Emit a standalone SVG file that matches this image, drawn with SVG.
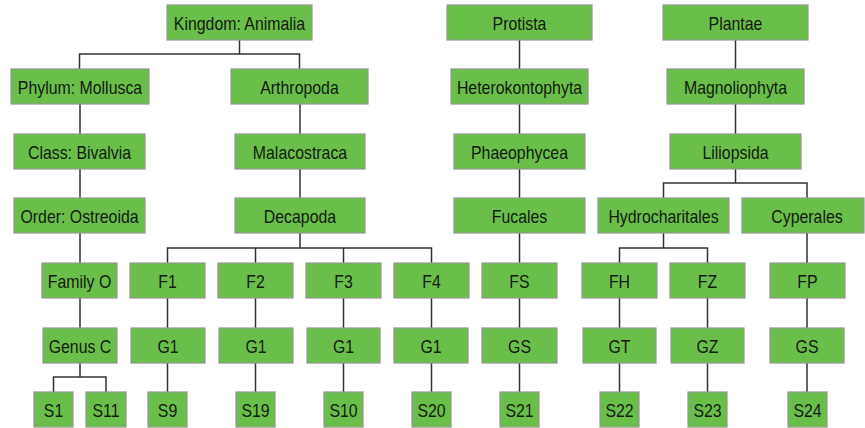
<svg xmlns="http://www.w3.org/2000/svg" width="865" height="428" viewBox="0 0 865 428">
<style>
.n rect{fill:#6abf4b;stroke:#8f9a8c;stroke-width:1.2}
.n text{font-family:"Liberation Sans",Arial,sans-serif;font-size:19px;fill:#141a12;text-anchor:middle}
#connectors path{fill:none;stroke:#333;stroke-width:1.5}
</style>
<rect width="865" height="428" fill="#fff"/>
<g id="connectors">
<path d="M239.5 40V54M79.5 69V54H299.5V69"/>
<path d="M80 104V134M80 169V198M80 233V263M80 298V328M80 363V377M53.5 392V377H106V392"/>
<path d="M300 104V134M300 169V198M300 233V248M167.5 263V248H431.5V263M255.5 248V263M343.5 248V263"/>
<path d="M167.5 298V328M255.5 298V328M343.5 298V328M431.5 298V328M167.5 363V392M255.5 363V392M343.5 363V392M431.5 363V392"/>
<path d="M519.5 40V69M519.5 104V134M519.5 169V198M519.5 233V263M519.5 298V328M519.5 363V392"/>
<path d="M735.5 40V69M735.5 104V134M735.5 169V183M663.5 198V183H807V198"/>
<path d="M663.5 233V248M619.5 263V248H707.5V263M619.5 298V328M619.5 363V392M707.5 298V328M707.5 363V392"/>
<path d="M807 233V263M807 298V328M807 363V392"/>
</g>
<g id="kingdom" class="n"><rect x="167" y="5" width="145" height="35"/><text transform="matrix(0.835 0 0 1 239.5 30)">Kingdom: Animalia</text></g>
<g id="phylum" class="n"><rect x="11" y="69" width="138" height="35"/><text transform="matrix(0.835 0 0 1 80 94)">Phylum: Mollusca</text></g>
<g id="arthropoda" class="n"><rect x="231" y="69" width="137" height="35"/><text transform="matrix(0.835 0 0 1 299.5 94)">Arthropoda</text></g>
<g id="class" class="n"><rect x="14" y="134" width="131" height="35"/><text transform="matrix(0.835 0 0 1 79.5 159)">Class: Bivalvia</text></g>
<g id="malacostraca" class="n"><rect x="235" y="134" width="130" height="35"/><text transform="matrix(0.835 0 0 1 300 159)">Malacostraca</text></g>
<g id="order" class="n"><rect x="14" y="198" width="131" height="35"/><text transform="matrix(0.835 0 0 1 79.5 223)">Order: Ostreoida</text></g>
<g id="decapoda" class="n"><rect x="235" y="198" width="130" height="35"/><text transform="matrix(0.835 0 0 1 300 223)">Decapoda</text></g>
<g id="familyO" class="n"><rect x="42" y="263" width="75" height="35"/><text transform="matrix(0.835 0 0 1 79.5 288)">Family O</text></g>
<g id="f1" class="n"><rect x="130" y="263" width="75" height="35"/><text transform="matrix(0.835 0 0 1 167.5 288)">F1</text></g>
<g id="f2" class="n"><rect x="218" y="263" width="75" height="35"/><text transform="matrix(0.835 0 0 1 255.5 288)">F2</text></g>
<g id="f3" class="n"><rect x="306" y="263" width="75" height="35"/><text transform="matrix(0.835 0 0 1 343.5 288)">F3</text></g>
<g id="f4" class="n"><rect x="394" y="263" width="75" height="35"/><text transform="matrix(0.835 0 0 1 431.5 288)">F4</text></g>
<g id="genusC" class="n"><rect x="43" y="328" width="74" height="35"/><text transform="matrix(0.835 0 0 1 80 353)">Genus C</text></g>
<g id="g1a" class="n"><rect x="131" y="328" width="74" height="35"/><text transform="matrix(0.835 0 0 1 168 353)">G1</text></g>
<g id="g1b" class="n"><rect x="219" y="328" width="74" height="35"/><text transform="matrix(0.835 0 0 1 256 353)">G1</text></g>
<g id="g1c" class="n"><rect x="307" y="328" width="73" height="35"/><text transform="matrix(0.835 0 0 1 343.5 353)">G1</text></g>
<g id="g1d" class="n"><rect x="394" y="328" width="74" height="35"/><text transform="matrix(0.835 0 0 1 431 353)">G1</text></g>
<g id="s1" class="n"><rect x="34" y="392" width="39" height="35"/><text transform="matrix(0.835 0 0 1 53.5 417)">S1</text></g>
<g id="s11" class="n"><rect x="86" y="392" width="40" height="35"/><text transform="matrix(0.835 0 0 1 106 417)">S11</text></g>
<g id="s9" class="n"><rect x="148" y="392" width="39" height="35"/><text transform="matrix(0.835 0 0 1 167.5 417)">S9</text></g>
<g id="s19" class="n"><rect x="236" y="392" width="39" height="35"/><text transform="matrix(0.835 0 0 1 255.5 417)">S19</text></g>
<g id="s10" class="n"><rect x="324" y="392" width="39" height="35"/><text transform="matrix(0.835 0 0 1 343.5 417)">S10</text></g>
<g id="s20" class="n"><rect x="412" y="392" width="39" height="35"/><text transform="matrix(0.835 0 0 1 431.5 417)">S20</text></g>
<g id="protista" class="n"><rect x="447" y="5" width="145" height="35"/><text transform="matrix(0.835 0 0 1 519.5 30)">Protista</text></g>
<g id="heterokontophyta" class="n"><rect x="451" y="69" width="137" height="35"/><text transform="matrix(0.835 0 0 1 519.5 94)">Heterokontophyta</text></g>
<g id="phaeophycea" class="n"><rect x="454" y="134" width="131" height="35"/><text transform="matrix(0.835 0 0 1 519.5 159)">Phaeophycea</text></g>
<g id="fucales" class="n"><rect x="454" y="198" width="131" height="35"/><text transform="matrix(0.835 0 0 1 519.5 223)">Fucales</text></g>
<g id="fs" class="n"><rect x="482" y="263" width="75" height="35"/><text transform="matrix(0.835 0 0 1 519.5 288)">FS</text></g>
<g id="gs1" class="n"><rect x="482" y="328" width="75" height="35"/><text transform="matrix(0.835 0 0 1 519.5 353)">GS</text></g>
<g id="s21" class="n"><rect x="500" y="392" width="39" height="35"/><text transform="matrix(0.835 0 0 1 519.5 417)">S21</text></g>
<g id="plantae" class="n"><rect x="663" y="5" width="145" height="35"/><text transform="matrix(0.835 0 0 1 735.5 30)">Plantae</text></g>
<g id="magnoliophyta" class="n"><rect x="667" y="69" width="137" height="35"/><text transform="matrix(0.835 0 0 1 735.5 94)">Magnoliophyta</text></g>
<g id="liliopsida" class="n"><rect x="670" y="134" width="131" height="35"/><text transform="matrix(0.835 0 0 1 735.5 159)">Liliopsida</text></g>
<g id="hydrocharitales" class="n"><rect x="598" y="198" width="131" height="35"/><text transform="matrix(0.835 0 0 1 663.5 223)">Hydrocharitales</text></g>
<g id="cyperales" class="n"><rect x="742" y="198" width="122" height="35"/><text transform="matrix(0.835 0 0 1 807 223)">Cyperales</text></g>
<g id="fh" class="n"><rect x="582" y="263" width="75" height="35"/><text transform="matrix(0.835 0 0 1 619.5 288)">FH</text></g>
<g id="fz" class="n"><rect x="670" y="263" width="75" height="35"/><text transform="matrix(0.835 0 0 1 707.5 288)">FZ</text></g>
<g id="fp" class="n"><rect x="770" y="263" width="75" height="35"/><text transform="matrix(0.835 0 0 1 807.5 288)">FP</text></g>
<g id="gt" class="n"><rect x="583" y="328" width="73" height="35"/><text transform="matrix(0.835 0 0 1 619.5 353)">GT</text></g>
<g id="gz" class="n"><rect x="671" y="328" width="73" height="35"/><text transform="matrix(0.835 0 0 1 707.5 353)">GZ</text></g>
<g id="gs2" class="n"><rect x="770" y="328" width="74" height="35"/><text transform="matrix(0.835 0 0 1 807 353)">GS</text></g>
<g id="s22" class="n"><rect x="600" y="392" width="39" height="35"/><text transform="matrix(0.835 0 0 1 619.5 417)">S22</text></g>
<g id="s23" class="n"><rect x="688" y="392" width="39" height="35"/><text transform="matrix(0.835 0 0 1 707.5 417)">S23</text></g>
<g id="s24" class="n"><rect x="788" y="392" width="39" height="35"/><text transform="matrix(0.835 0 0 1 807.5 417)">S24</text></g>
</svg>
